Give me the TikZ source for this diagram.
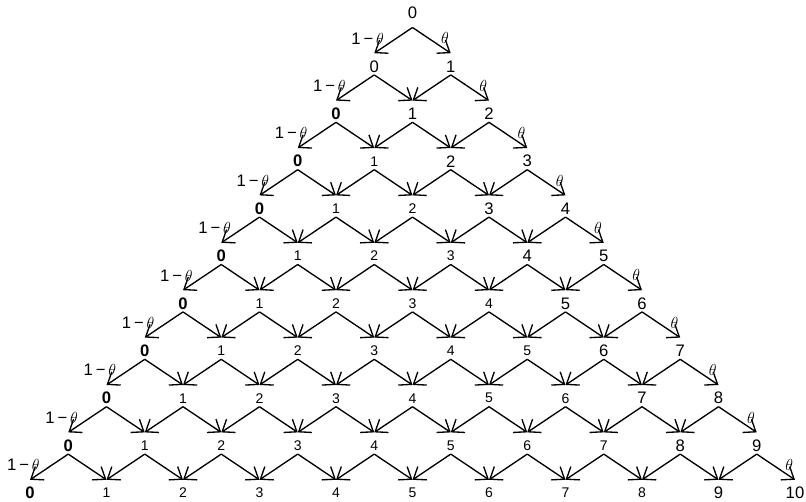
\documentclass[tikz,border=0pt]{standalone}
\usepackage{fontspec}
\setmainfont{Liberation Sans}
\usetikzlibrary{arrows.meta}

\newcommand\smallnum{\fontsize{10.5}{12}\selectfont}
\newcommand\bignum{\fontsize{12.5}{14}\selectfont}

\tikzset{
  lat/.style={inner sep=0pt},
  move/.style={-{Straight Barb[length=8pt,width=12pt]}, line width=1pt},
  prob/.style={font=\bignum, inner sep=0pt}
}

\begin{document}
\begin{tikzpicture}[x=0.75pt, y=0.75pt]
  \useasboundingbox (0,0) rectangle (806,-502);

  % lattice values
  \foreach \r in {0,...,10}{
    \foreach \k in {0,...,\r}{
      \pgfmathtruncatemacro\km{\r-1}
      \ifnum\k<\km \let\labfont\smallnum \def\up{1.5}\else \let\labfont\bignum \def\up{0}\fi
      \ifnum\k=0 \ifnum\r>1 \def\labfont{\bignum\bfseries}\def\up{0}\fi\fi
      \pgfmathsetmacro\ly{-(19+47.4*\r)+6*(\r==0)}
      \node[lat, font=\labfont] (n\r-\k) at ({412.5+38.25*(2*\k-\r)},\ly) {\k};
    }
  }

  % moves down and probabilities
  \foreach \r in {0,...,9}{
    \pgfmathtruncatemacro\nr{\r+1}
    \pgfmathsetmacro\dn{8.5+6*(\r==0)}
    \foreach \k in {0,...,\r}{
      \pgfmathtruncatemacro\kk{\k+1}
      \draw[move] ([yshift=-\dn*0.75pt]n\r-\k.center) -- ([yshift=9.9pt]n\nr-\k.center);
      \draw[move] ([yshift=-\dn*0.75pt]n\r-\k.center) -- ([yshift=9.9pt]n\nr-\kk.center);
    }
    \path ([yshift=-\dn*0.75pt]n\r-0.center) -- ([yshift=9.9pt]n\nr-0.center)
      node[prob, midway, anchor=east, xshift=-7pt, yshift=1.5pt] {1\,−\,$\theta$};
    \path ([yshift=-\dn*0.75pt]n\r-\r.center) -- ([yshift=9.9pt]n\nr-\nr.center)
      node[prob, midway, xshift=10pt, yshift=1.5pt] {$\theta$};
  }
\end{tikzpicture}
\end{document}
